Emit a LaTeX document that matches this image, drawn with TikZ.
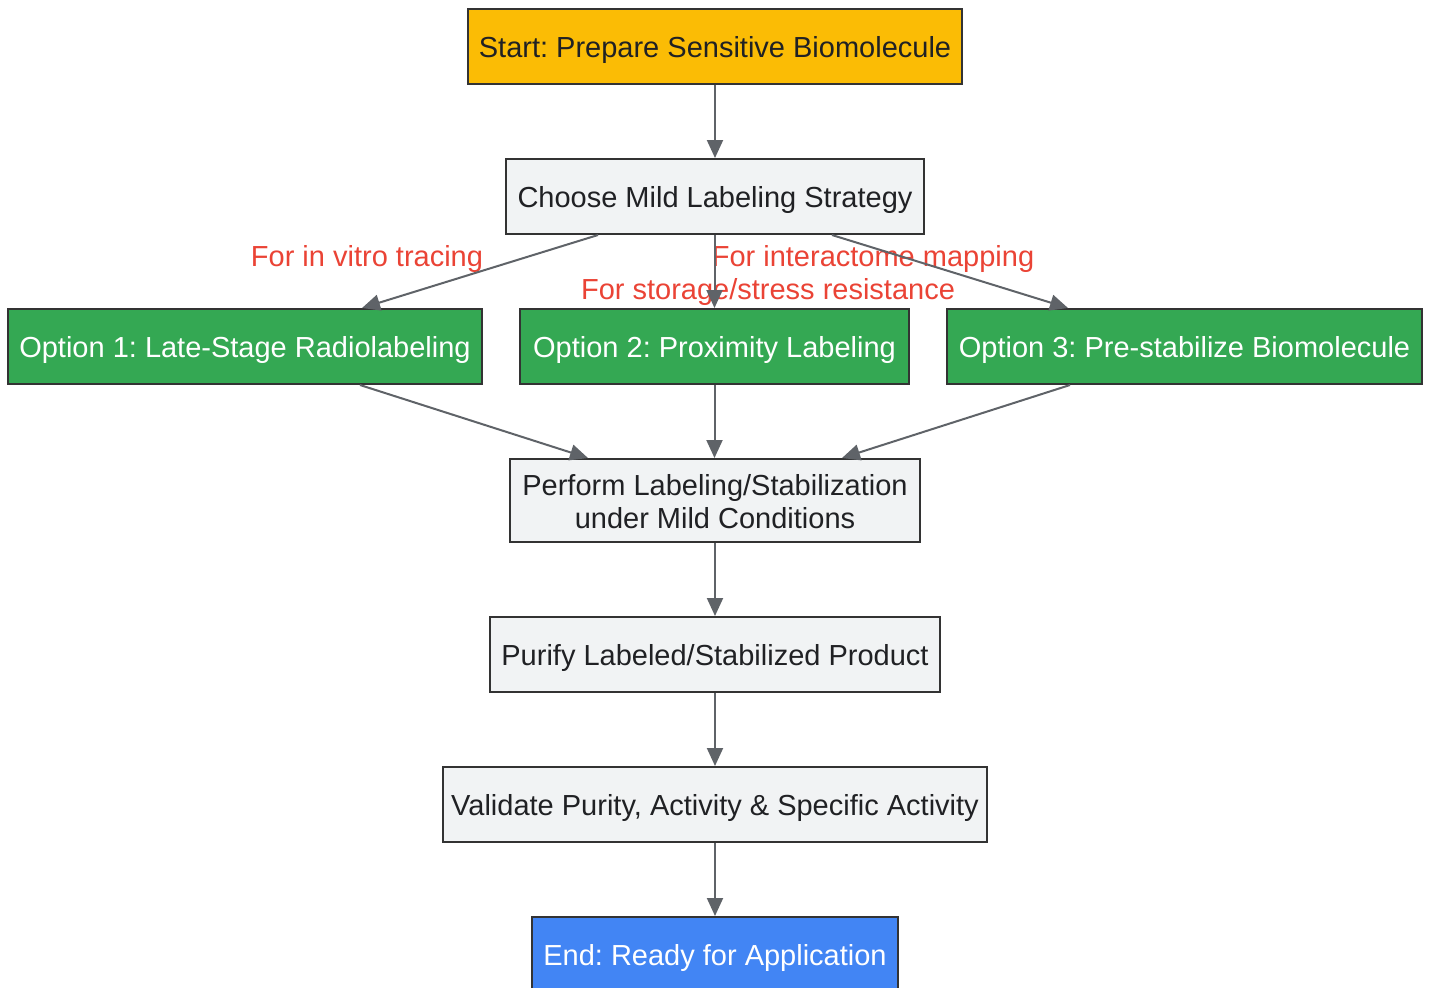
\documentclass[tikz,border=0pt]{standalone}
\usepackage{fontspec}
\setmainfont{Liberation Sans}
\frenchspacing
\usetikzlibrary{arrows.meta,positioning}
\definecolor{startyellow}{HTML}{FBBC05}
\definecolor{optgreen}{HTML}{34A853}
\definecolor{endblue}{HTML}{4285F4}
\definecolor{stepgray}{HTML}{F1F3F4}
\definecolor{edgegray}{HTML}{5F6368}
\definecolor{labelred}{HTML}{EA4335}
\definecolor{textdark}{HTML}{202124}
\tikzstyle{box} = [rectangle, draw=black!80, line width=1pt, minimum height=37.5pt, inner xsep=2pt, text height=12pt, text depth=1pt, text centered, font=\fontsize{14.5}{16.5}\selectfont]
\tikzstyle{startbox} = [box, fill=startyellow, text=textdark]
\tikzstyle{stepbox} = [box, fill=stepgray, text=textdark]
\tikzstyle{optbox} = [box, fill=optgreen, text=white]
\tikzstyle{endbox} = [box, fill=endblue, text=white]
\tikzstyle{choice} = [text=labelred, inner sep=0pt, font=\fontsize{14.5}{16.5}\selectfont]
\tikzstyle{arrow} = [line width=1pt, draw=edgegray, fill=edgegray, -{Triangle[length=9pt,width=8pt]}]

\begin{document}
\begin{tikzpicture}[x=0.5pt,y=-0.5pt]
    \useasboundingbox (0,0) rectangle (1431,987);
    \node [startbox, minimum width=247pt] (start) at (715,46) {Start: Prepare Sensitive Biomolecule};
    \node [stepbox, minimum width=209pt] (choose) at (715,196.5) {Choose Mild Labeling Strategy};
    \node [optbox, minimum width=237pt] (opt1) at (245,346.5) {Option 1: Late-Stage Radiolabeling};
    \node [optbox, minimum width=194.5pt] (opt2) at (714.5,346.5) {Option 2: Proximity Labeling};
    \node [optbox, minimum width=237.5pt] (opt3) at (1184.5,346.5) {Option 3: Pre-stabilize Biomolecule};
    \node [stepbox, minimum width=205pt, minimum height=41.5pt, text height=30pt, text depth=2pt, align=center] (perform) at (715,500.5) {Perform Labeling/Stabilization\\under Mild Conditions};
    \node [stepbox, minimum width=225pt] (purify) at (715,654.5) {Purify Labeled/Stabilized Product};
    \node [stepbox, minimum width=272pt] (validate) at (715,804.5) {Validate Purity, Activity \& Specific Activity};
    \node [endbox, minimum width=183pt] (finish) at (715,954.5) {End: Ready for Application};
    % branch labels
    \node [choice] (lbltrace) at (367,259) {For in vitro tracing};
    \node [choice] (lblmap) at (873,259) {For interactome mapping};
    \node [choice] (lblstore) at (768,292) {For storage/stress resistance};
    \draw [arrow] (start) -- (choose);
    \draw [arrow] ([xshift=-58.5pt]choose.south) -- ([xshift=58.5pt]opt1.north);
    \draw [arrow] (choose.south -| opt2.north) -- (opt2.north);
    \draw [arrow] ([xshift=58.5pt]choose.south) -- ([xshift=-58.25pt]opt3.north);
    \draw [arrow] ([xshift=57.5pt]opt1.south) -- ([xshift=-63.5pt]perform.north);
    \draw [arrow] (opt2.south) -- (opt2.south |- perform.north);
    \draw [arrow] ([xshift=-57.25pt]opt3.south) -- ([xshift=63.5pt]perform.north);
    \draw [arrow] (perform) -- (purify);
    \draw [arrow] (purify) -- (validate);
    \draw [arrow] (validate) -- (finish);
\end{tikzpicture}
\end{document}
